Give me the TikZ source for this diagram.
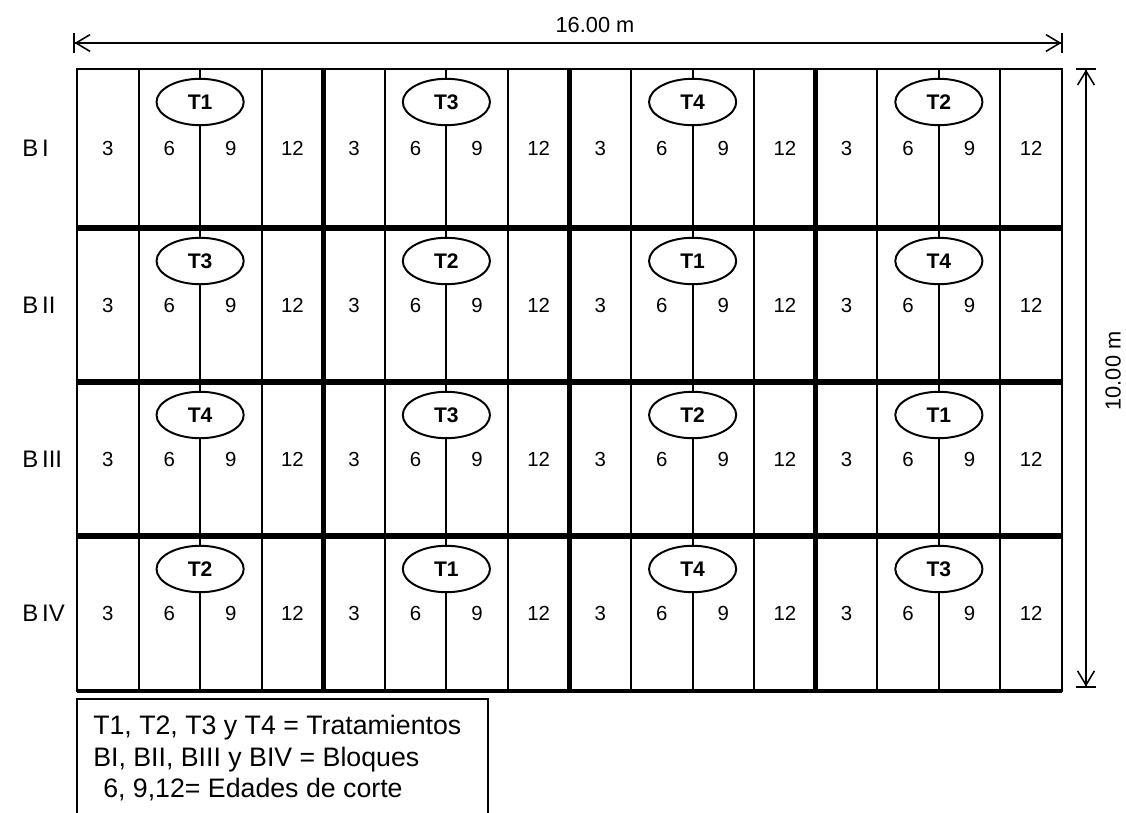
\documentclass[tikz,border=0pt]{standalone}
\usepackage{fontspec}
\setmainfont{Liberation Sans}
\usepackage{tikz}
\usetikzlibrary{arrows.meta,shapes.geometric}

\begin{document}
\begin{tikzpicture}[x=0.025cm,y=-0.025cm,
	linea/.style={line width=1.4pt},
	lineagruesa/.style={line width=3.6pt},
	trat/.style={ellipse,draw,fill=white,line width=1.4pt,minimum width=62pt,minimum height=33pt,inner sep=0pt,font=\fontsize{15}{15}\selectfont\bfseries},
	edad/.style={font=\fontsize{14.5}{15}\selectfont},
	bloque/.style={anchor=west,inner sep=0pt,font=\fontsize{17}{17}\selectfont},
	medida/.style={font=\fontsize{15.5}{16}\selectfont},
	dimarr/.style={line width=1.1pt,arrows={{Bar[width=14pt,sep=0pt]Straight Barb[length=10pt,width=12pt]}-{Straight Barb[length=10pt,width=12pt,sep=0pt]Bar[width=14pt]}}},
	leyenda/.style={anchor=base west,inner sep=0pt,font=\fontsize{19}{20}\selectfont}]
	
	\useasboundingbox (0,0) rectangle (1126,813);
	\clip (0,0) rectangle (1126,813);
	
	% lineas finas entre parcelas
	\foreach \c in {1,2,3,5,6,7,9,10,11,13,14,15}
		\draw[linea] (77+\c*61.5625,69) -- (77+\c*61.5625,691);
	
	% bloques, tratamientos y edades de corte
	\foreach \ya/\yb/\ta/\tb/\tc/\td/\nb [count=\r] in {69/228/T1/T3/T4/T2/I, 228/382/T3/T2/T1/T4/II, 382/536/T4/T3/T2/T1/III, 536/691/T2/T1/T4/T3/IV}{
		\node[bloque] (b\r) at (22,{(\ya+\yb)/2}) {B\,\nb};
		\foreach \t [count=\k from 0] in {\ta,\tb,\tc,\td}
			\node[trat] (t\r\k) at (77+\k*246.25+123.125,\ya+33) {\t};
		\foreach \e [count=\c from 0] in {3,6,9,12,3,6,9,12,3,6,9,12,3,6,9,12}
			\node[edad] (e\r-\c) at (77+\c*61.5625+30.78,{(\ya+\yb)/2}) {\e};
	}
	
	% lineas gruesas
	\foreach \c in {4,8,12}
		\draw[lineagruesa] (77+\c*61.5625,69) -- (77+\c*61.5625,691);
	\foreach \y in {228,382,536}
		\draw[lineagruesa] (77,\y) -- (1062,\y);
	\draw[line width=1.6pt] (77,69) rectangle (1062,691);
	\draw[line width=2.6pt] (77,691) -- (1062,691);
	
	% medidas
	\coordinate (ai) at (73,43);
	\coordinate (ad) at (1063,43);
	\draw[dimarr] (ai) -- (ad);
	\node[medida] (ancho) at (595,25) {16.00 m};
	\coordinate (aa) at (1086,68);
	\coordinate (ab) at (1086,688);
	\draw[dimarr] (aa) -- (ab);
	\node[medida,rotate=90] (alto) at (1113,371) {10.00 m};
	
	% leyenda
	\draw[line width=1.3pt] (77,699) rectangle (488,840);
	\node[leyenda] (l1) at (93,734) {T1, T2, T3 y T4 = Tratamientos};
	\node[leyenda] (l2) at (93,766) {BI, BII, BIII y BIV = Bloques};
	\node[leyenda] (l3) at (103,797) {6, 9,12= Edades de corte};
	
\end{tikzpicture}
\end{document}
